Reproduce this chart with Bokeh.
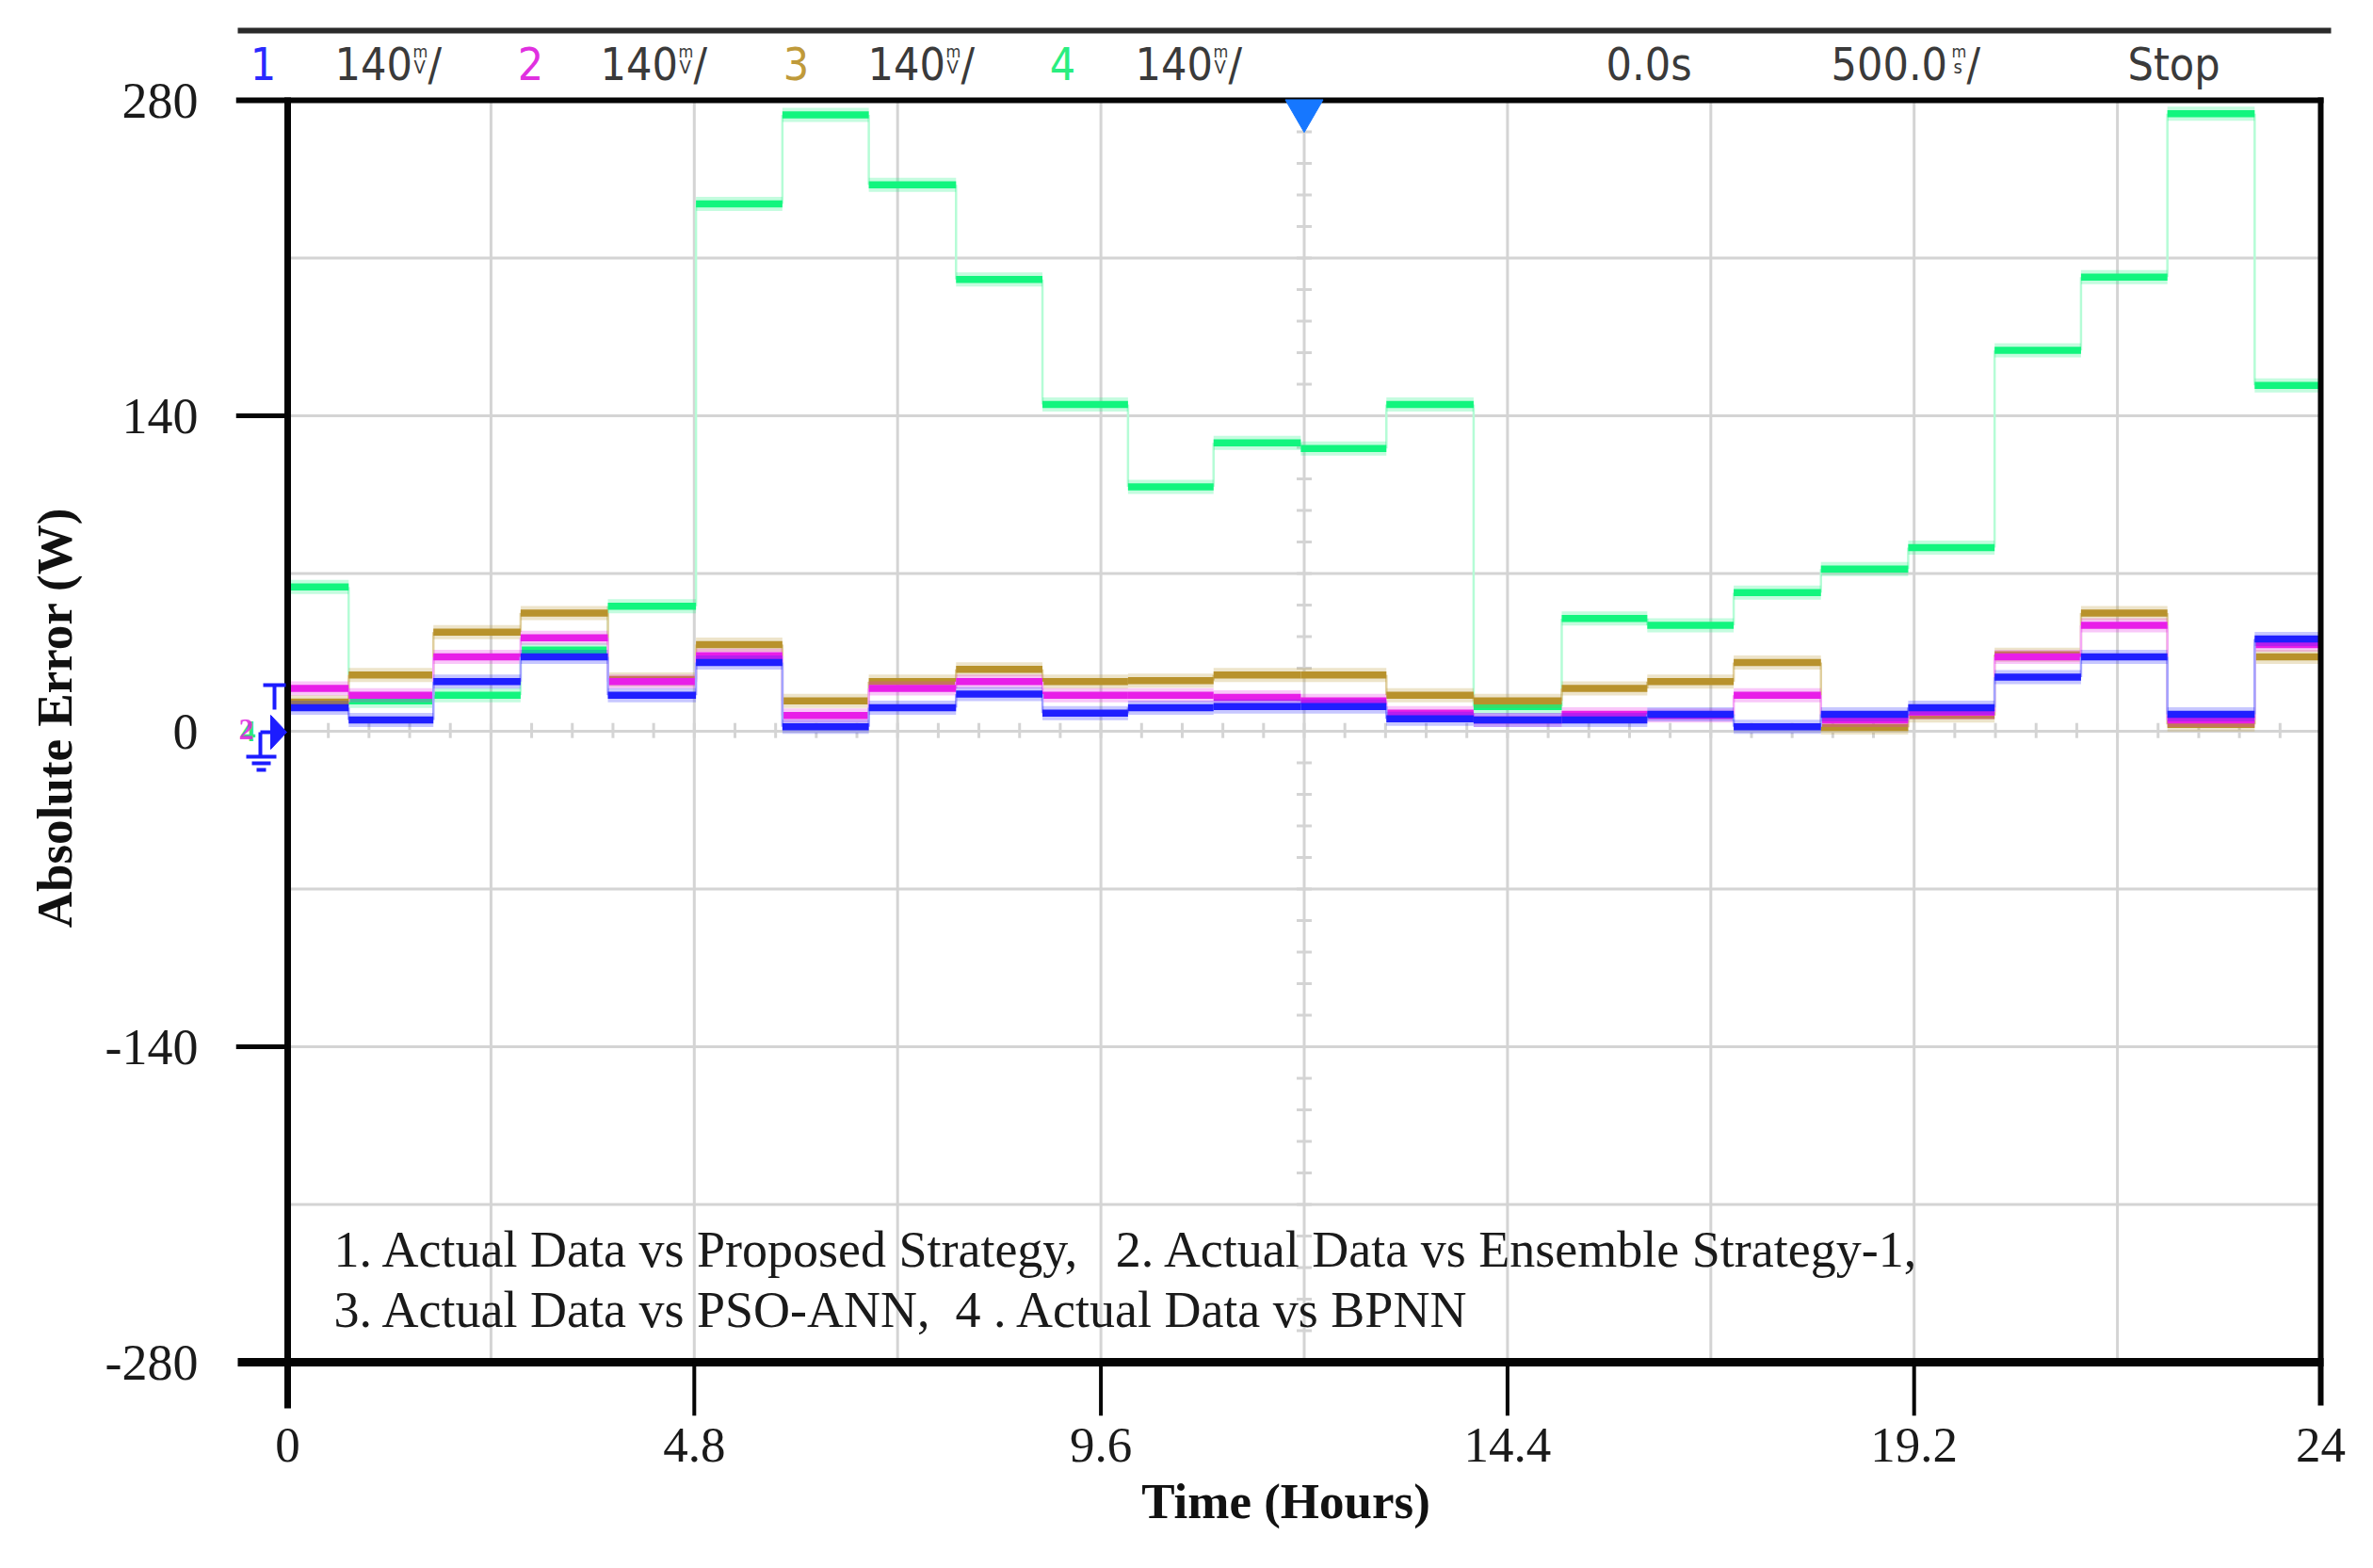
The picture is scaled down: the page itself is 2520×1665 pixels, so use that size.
from bokeh.plotting import figure
from bokeh.models import Range1d, FixedTicker
from bokeh.core.properties import value
from bokeh.embed import file_html
from bokeh.resources import INLINE

# ---------------- data ----------------
hour_edges = [0, 0.72, 1.72, 2.75, 3.78, 4.82, 5.84, 6.86, 7.89, 8.91, 9.92, 10.93,
              11.96, 12.97, 14.0, 15.04, 16.05, 17.07, 18.1, 19.13, 20.15, 21.17,
              22.19, 23.22, 24]
proposed = [10.5, 5, 22, 33, 16, 30.5, 2, 10.5, 16.5, 8, 10.5, 11,
             11, 5.5, 5, 5, 7.5, 2, 7.5, 10.5, 24, 33, 7.5, 41]
ensemble1 = [19, 16, 33, 41.5, 22, 33.5, 7, 19, 22, 16, 16, 15,
              13.5, 8, 5, 7.5, 7, 16, 5, 8.5, 33, 47, 5, 38.5]
pso_ann = [13, 25, 44, 52.5, 23, 38.5, 13.5, 22, 27.5, 22, 22.5, 25,
           25, 16, 13.5, 19, 22, 30.5, 1.7, 7, 34, 52.5, 3, 33]
bpnn = [64, 13.5, 16, 36, 55.5, 234, 273.5, 242.5, 200.5, 145, 108.5, 128,
        125.5, 145, 11, 50, 47, 61.5, 72, 81.5, 169, 201.5, 274, 153.5]

x_ticks = [0, 4.8, 9.6, 14.4, 19.2, 24]
x_tick_labels = ["0", "4.8", "9.6", "14.4", "19.2", "24"]
y_ticks = [-280, -140, 0, 140, 280]
y_tick_labels = ["-280", "-140", "0", "140", "280"]
grid_x = [0, 2.4, 4.8, 7.2, 9.6, 12, 14.4, 16.8, 19.2, 21.6, 24]
grid_y = [-280, -210, -140, -70, 0, 70, 140, 210, 280]
center_ticks_y = [v for v in range(-280, 281, 14)]
center_ticks_x = [k * 0.48 for k in range(0, 51)]

x_title = "Time (Hours)"
y_title = "Absolute Error (W)"
legend_lines = ["1. Actual Data vs Proposed Strategy,\u00a0\u00a0 2. Actual Data vs Ensemble Strategy-1,",
                "3. Actual Data vs PSO-ANN,\u00a0 4 . Actual Data vs BPNN"]
channels = ["1", "2", "3", "4"]
channel_scale = "140"
time_offset = "0.0s"
time_scale = "500.0"
run_state = "Stop"

# ---------------- layout (page pixels) ----------------
X0_PX, X1_PX = 305, 2464      # x = 0 h and 24 h
YT_PX, YB_PX = 106, 1446      # y = 280 W and -280 W
FR_L, FR_R, FR_T, FR_B = 250, 2480, 20, 1503
XPX = (X1_PX - X0_PX) / 24.0
YPX = (YB_PX - YT_PX) / 560.0


def dx(px):
    return (px - X0_PX) / XPX


def dy(py):
    return 280 - (py - YT_PX) / YPX


W, H = 2520, 1665
p = figure(width=W, height=H, output_backend="svg", toolbar_location=None, title=None,
           x_range=Range1d(dx(FR_L), dx(FR_R)), y_range=Range1d(dy(FR_B), dy(FR_T)),
           min_border_left=FR_L, min_border_right=W - FR_R,
           min_border_top=FR_T, min_border_bottom=H - FR_B)
p.outline_line_color = None
p.grid.visible = False
p.background_fill_color = "white"
p.border_fill_color = "white"

SERIF = "Liberation Serif"
NARROW = "'Liberation Sans Narrow', 'DejaVu Sans Condensed', 'Roboto Condensed', 'Liberation Sans', sans-serif"

# axes: labels only (ticks drawn as part of the scope frame)
xa = p.xaxis[0]
xa.ticker = FixedTicker(ticks=x_ticks)
xa.major_label_overrides = dict(zip(x_ticks, x_tick_labels))
xa.axis_line_color = None
xa.major_tick_in = 0
xa.major_tick_out = 0
xa.minor_tick_line_color = None
xa.major_label_standoff = 13
xa.major_label_text_font = SERIF
xa.major_label_text_font_size = "53px"
xa.major_label_text_color = "#1a1a1a"
xa.axis_label = x_title
xa.axis_label_text_font = SERIF
xa.axis_label_text_font_style = "bold"
xa.axis_label_text_font_size = "53px"
xa.axis_label_text_color = "#111111"
xa.axis_label_standoff = 10

ya = p.yaxis[0]
ya.ticker = FixedTicker(ticks=y_ticks)
ya.major_label_overrides = dict(zip(y_ticks, y_tick_labels))
ya.axis_line_color = None
ya.major_tick_in = 0
ya.major_tick_out = 0
ya.minor_tick_line_color = None
ya.major_label_standoff = 40
ya.major_label_text_font = SERIF
ya.major_label_text_font_size = "54px"
ya.major_label_text_color = "#1a1a1a"
ya.axis_label = y_title
ya.axis_label_text_font = SERIF
ya.axis_label_text_font_style = "bold"
ya.axis_label_text_font_size = "53px"
ya.axis_label_text_color = "#111111"
ya.axis_label_standoff = 22

# ---------------- graticule ----------------
GRID = "#d4d4d4"
p.segment(x0=grid_x, x1=grid_x, y0=[-280] * len(grid_x), y1=[280] * len(grid_x),
          line_color=GRID, line_width=3)
p.segment(x0=[0] * len(grid_y), x1=[24] * len(grid_y), y0=grid_y, y1=grid_y,
          line_color=GRID, line_width=3)
hx = 8 / XPX
hy = 8 / YPX
p.segment(x0=[12 - hx] * len(center_ticks_y), x1=[12 + hx] * len(center_ticks_y),
          y0=center_ticks_y, y1=center_ticks_y, line_color=GRID, line_width=3)
p.segment(x0=center_ticks_x, x1=center_ticks_x, y0=[-hy * 0.9] * len(center_ticks_x),
          y1=[hy * 1.1] * len(center_ticks_x), line_color=GRID, line_width=3)

# ---------------- traces ----------------
series = [
    (bpnn, "#12f57e", "#b5fcd6"),
    (pso_ann, "#b8922c", "#e0cf9e"),
    (ensemble1, "#e81ee8", "#f5a6f5"),
    (proposed, "#1f1fff", "#a3a3ff"),
]
x_left = hour_edges[:-1]
x_right = hour_edges[1:]
for vals, col, pale in series:
    p.segment(x0=hour_edges[1:-1], x1=hour_edges[1:-1], y0=vals[:-1], y1=vals[1:],
              line_color=pale, line_width=2.5)
    p.segment(x0=x_left, x1=x_right, y0=vals, y1=vals, line_color=col,
              line_width=15, line_alpha=0.25)
    p.segment(x0=x_left, x1=x_right, y0=vals, y1=vals, line_color=col, line_width=7.5)

# ---------------- scope frame ----------------
BLACK = "#050505"
p.segment(x0=[dx(250)], x1=[24 + 3 / XPX], y0=[280], y1=[280], line_color=BLACK, line_width=6)
p.segment(x0=[dx(252)], x1=[24 + 3 / XPX], y0=[-280], y1=[-280], line_color=BLACK, line_width=9)
p.segment(x0=[0], x1=[0], y0=[dy(1495)], y1=[280 + 3 / YPX], line_color=BLACK, line_width=7)
p.segment(x0=[24], x1=[24], y0=[dy(1492)], y1=[280 + 3 / YPX], line_color=BLACK, line_width=6)
side_ticks = [140, -140]
p.segment(x0=[dx(250)] * 2, x1=[0] * 2, y0=side_ticks, y1=side_ticks,
          line_color=BLACK, line_width=5)
bt = [4.8, 9.6, 14.4, 19.2]
p.segment(x0=bt, x1=bt, y0=[-280] * 4, y1=[dy(1503)] * 4, line_color=BLACK, line_width=4)

# header rule
p.segment(x0=[dx(252)], x1=[dx(2475)], y0=[dy(32)], y1=[dy(32)], line_color="#2a2a2a", line_width=6)

# trigger marker and channel ground marker
p.scatter(x=[12], y=[dy(117)], marker="inverted_triangle", size=40, color="#1677ff")
MB = "#1c1cff"
p.patch(x=[dx(287), dx(304), dx(287)], y=[dy(759), dy(777), dy(795)], color=MB)
p.segment(x0=[dx(279), dx(291), dx(276), dx(276), dx(261), dx(267), dx(272)],
          x1=[dx(303), dx(291), dx(290), dx(276), dx(293), dx(287), dx(282)],
          y0=[dy(727), dy(727), dy(777), dy(777), dy(803), dy(810), dy(817)],
          y1=[dy(727), dy(753), dy(777), dy(803), dy(803), dy(810), dy(817)],
          line_color=MB, line_width=4)
p.text(x=[dx(255)], y=[dy(776)], text=["4"], text_font=value(SERIF), text_font_size="32px",
       text_font_style="bold", text_color="#2ee87a", text_baseline="middle", text_align="left")
p.text(x=[dx(253)], y=[dy(774)], text=["2"], text_font=value(SERIF), text_font_size="32px",
       text_font_style="bold", text_color="#e020e0", text_baseline="middle", text_align="left",
       text_alpha=0.85)

# ---------------- header text ----------------
HY = dy(67)
HFS = "48px"
HCOL = "#3a3a3a"
ch_cols = ["#2a2aff", "#e030e0", "#bf9a3a", "#2aee80"]
ch_x = [279, 563, 845, 1128]
sc_x = [355, 637, 921, 1205]
p.text(x=[dx(v) for v in ch_x], y=[HY] * 4, text=channels, text_color=ch_cols,
       text_font=value(NARROW), text_font_size=HFS, text_align="center", text_baseline="middle")
p.text(x=[dx(v) for v in sc_x], y=[HY] * 4, text=[channel_scale] * 4, text_color=HCOL,
       text_font=value(NARROW), text_font_size=HFS, text_align="left", text_baseline="middle")
p.text(x=[dx(v + 83) for v in sc_x], y=[dy(54)] * 4, text=["m"] * 4, text_color=HCOL,
       text_font=value(NARROW), text_font_size="18px", text_align="left", text_baseline="middle")
p.text(x=[dx(v + 84) for v in sc_x], y=[dy(70)] * 4, text=["V"] * 4, text_color=HCOL,
       text_font=value(NARROW), text_font_size="20px", text_align="left", text_baseline="middle")
p.text(x=[dx(v + 99) for v in sc_x], y=[HY] * 4, text=["/"] * 4, text_color=HCOL,
       text_font=value(NARROW), text_font_size=HFS, text_align="left", text_baseline="middle")
p.text(x=[dx(1705), dx(1944), dx(2259)], y=[HY] * 3, text=[time_offset, time_scale, run_state],
       text_color=HCOL, text_font=value(NARROW), text_font_size=HFS,
       text_align="left", text_baseline="middle")
p.text(x=[dx(2072)], y=[dy(54)], text=["m"], text_color=HCOL, text_font=value(NARROW),
       text_font_size="18px", text_align="left", text_baseline="middle")
p.text(x=[dx(2074)], y=[dy(70)], text=["s"], text_color=HCOL, text_font=value(NARROW),
       text_font_size="20px", text_align="left", text_baseline="middle")
p.text(x=[dx(2088)], y=[HY], text=["/"], text_color=HCOL, text_font=value(NARROW),
       text_font_size=HFS, text_align="left", text_baseline="middle")

# ---------------- in-plot legend text ----------------
p.text(x=[dx(354)] * 2, y=[dy(1326), dy(1390)], text=legend_lines, text_color="#1a1a1a",
       text_font=value(SERIF), text_font_size="54px", text_align="left", text_baseline="middle")

open("out.html", "w").write(file_html(p, INLINE))
